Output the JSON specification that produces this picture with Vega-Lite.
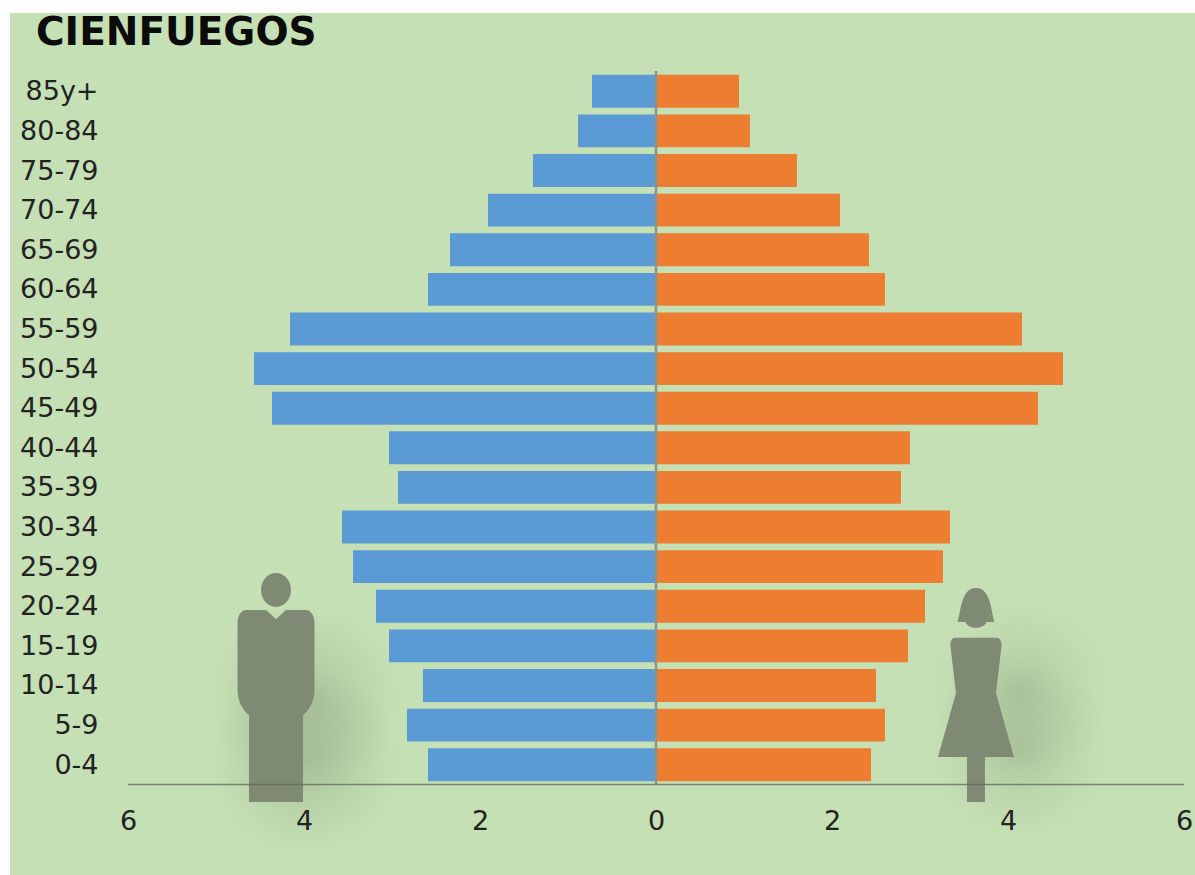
{"$schema":"https://vega.github.io/schema/vega-lite/v6.json","autosize":{"type":"none"},"padding":{"left":10,"top":13,"right":0,"bottom":0},"width":1185,"height":862,"background":"#ffffff","view":{"fill":"#C5E0B4","stroke":null},"title":{"text":"CIENFUEGOS","anchor":"start","orient":"top","frame":"group","offset":-40,"dx":26,"font":"DejaVu Sans","fontWeight":"bold","fontSize":39,"color":"#0b0b0b"},"resolve":{"scale":{"y":"independent"}},"layer":[{"data":{"values":[{"figure":"man shadow","x":-3.99,"pos":20.3},{"figure":"man shadow","x":-3.99,"pos":13.34}]},"mark":{"type":"point","filled":true,"opacity":1,"size":36100,"shape":"M -1 0 A 1 1 0 1 1 1 0 A 1 1 0 1 1 -1 0 Z","fill":{"gradient":"radial","stops":[{"offset":0,"color":"rgba(85,100,75,0.22)"},{"offset":0.5,"color":"rgba(85,100,75,0.1)"},{"offset":1,"color":"rgba(85,100,75,0)"}]}},"encoding":{"x":{"field":"x","type":"quantitative","scale":{"domain":[-7.341,6.125],"nice":false},"axis":{"values":[-6,-4,-2,0,2,4,6],"labelExpr":"abs(datum.value)","orient":"bottom","offset":-90,"domain":false,"ticks":false,"grid":false,"title":null,"labelFont":"DejaVu Sans","labelFontSize":27,"labelColor":"#222222","labelPadding":23,"labelFlush":false,"zindex":1}},"y":{"field":"pos","type":"quantitative","scale":{"domain":[0,100]},"axis":null}}},{"data":{"values":[{"figure":"woman shadow","x":4.136,"pos":21.46},{"figure":"woman shadow","x":4.136,"pos":14.5}]},"mark":{"type":"point","filled":true,"opacity":1,"size":32400,"shape":"M -1 0 A 1 1 0 1 1 1 0 A 1 1 0 1 1 -1 0 Z","fill":{"gradient":"radial","stops":[{"offset":0,"color":"rgba(85,100,75,0.2)"},{"offset":0.5,"color":"rgba(85,100,75,0.08)"},{"offset":1,"color":"rgba(85,100,75,0)"}]}},"encoding":{"x":{"field":"x","type":"quantitative"},"y":{"field":"pos","type":"quantitative","scale":{"domain":[0,100]},"axis":null}}},{"data":{"values":[{"age":"85y+","sex":"Male","value":-0.727},{"age":"80-84","sex":"Male","value":-0.886},{"age":"75-79","sex":"Male","value":-1.398},{"age":"70-74","sex":"Male","value":-1.909},{"age":"65-69","sex":"Male","value":-2.341},{"age":"60-64","sex":"Male","value":-2.591},{"age":"55-59","sex":"Male","value":-4.159},{"age":"50-54","sex":"Male","value":-4.568},{"age":"45-49","sex":"Male","value":-4.364},{"age":"40-44","sex":"Male","value":-3.034},{"age":"35-39","sex":"Male","value":-2.932},{"age":"30-34","sex":"Male","value":-3.568},{"age":"25-29","sex":"Male","value":-3.443},{"age":"20-24","sex":"Male","value":-3.182},{"age":"15-19","sex":"Male","value":-3.034},{"age":"10-14","sex":"Male","value":-2.648},{"age":"5-9","sex":"Male","value":-2.83},{"age":"0-4","sex":"Male","value":-2.591},{"age":"85y+","sex":"Female","value":0.943},{"age":"80-84","sex":"Female","value":1.068},{"age":"75-79","sex":"Female","value":1.602},{"age":"70-74","sex":"Female","value":2.091},{"age":"65-69","sex":"Female","value":2.42},{"age":"60-64","sex":"Female","value":2.602},{"age":"55-59","sex":"Female","value":4.159},{"age":"50-54","sex":"Female","value":4.625},{"age":"45-49","sex":"Female","value":4.341},{"age":"40-44","sex":"Female","value":2.886},{"age":"35-39","sex":"Female","value":2.784},{"age":"30-34","sex":"Female","value":3.341},{"age":"25-29","sex":"Female","value":3.261},{"age":"20-24","sex":"Female","value":3.057},{"age":"15-19","sex":"Female","value":2.864},{"age":"10-14","sex":"Female","value":2.5},{"age":"5-9","sex":"Female","value":2.602},{"age":"0-4","sex":"Female","value":2.443}]},"mark":{"type":"bar"},"encoding":{"x":{"field":"value","type":"quantitative"},"y":{"field":"age","type":"nominal","sort":null,"scale":{"range":[58.5,771.5],"paddingInner":0.17,"paddingOuter":0.085},"axis":{"orient":"left","offset":-88,"domain":false,"ticks":false,"grid":false,"title":null,"labelFont":"DejaVu Sans","labelFontSize":27,"labelColor":"#222222","labelPadding":0,"labelOffset":1}},"color":{"field":"sex","type":"nominal","scale":{"domain":["Male","Female"],"range":["#5B9BD5","#ED7D31"]},"legend":null}}},{"data":{"values":[{"line":"centre","x":0,"pos":93.27,"pos2":10.5}]},"mark":{"type":"rule","color":"#8b9488","strokeWidth":2.5},"encoding":{"x":{"field":"x","type":"quantitative"},"y":{"field":"pos","type":"quantitative","scale":{"domain":[0,100]},"axis":null},"y2":{"field":"pos2"}}},{"data":{"values":[{"figure":"man","x":-4.318,"pos":21.75}]},"mark":{"type":"point","filled":true,"opacity":1,"fill":"#7F8A75","size":52441,"shape":"M -0.131 -0.852 A 0.131 0.148 0 1 1 0.131 -0.852 A 0.131 0.148 0 1 1 -0.131 -0.852 Z M 0 -0.598 L 0.087 -0.677 L 0.26 -0.677 C 0.31 -0.677 0.336 -0.62 0.336 -0.56 L 0.336 0.02 C 0.336 0.12 0.29 0.2 0.236 0.24 L 0.236 1 L -0.236 1 L -0.236 0.24 C -0.29 0.2 -0.336 0.12 -0.336 0.02 L -0.336 -0.56 C -0.336 -0.62 -0.31 -0.677 -0.26 -0.677 L -0.087 -0.677 Z"},"encoding":{"x":{"field":"x","type":"quantitative"},"y":{"field":"pos","type":"quantitative","scale":{"domain":[0,100]},"axis":null}}},{"data":{"values":[{"figure":"woman","x":3.636,"pos":20.88}]},"mark":{"type":"point","filled":true,"opacity":1,"fill":"#7F8A75","size":45796,"shape":"M -0.173 -0.682 C -0.14 -0.78 -0.14 -1 0 -1 C 0.14 -1 0.14 -0.78 0.173 -0.682 L 0.1 -0.682 C 0.07 -0.61 -0.07 -0.61 -0.1 -0.682 Z M -0.2 -0.535 L 0.2 -0.535 C 0.22 -0.535 0.24 -0.5 0.24 -0.467 L 0.187 -0.019 L 0.355 0.579 L 0.084 0.579 L 0.084 1 L -0.084 1 L -0.084 0.579 L -0.355 0.579 L -0.187 -0.019 L -0.24 -0.467 C -0.24 -0.5 -0.22 -0.535 -0.2 -0.535 Z"},"encoding":{"x":{"field":"x","type":"quantitative"},"y":{"field":"pos","type":"quantitative","scale":{"domain":[0,100]},"axis":null}}},{"data":{"values":[{"line":"axis","x":-6,"x2":6,"pos":10.5}]},"mark":{"type":"rule","color":"#5f6658","opacity":0.75,"strokeWidth":1.5},"encoding":{"x":{"field":"x","type":"quantitative"},"x2":{"field":"x2"},"y":{"field":"pos","type":"quantitative","scale":{"domain":[0,100]},"axis":null}}}]}
